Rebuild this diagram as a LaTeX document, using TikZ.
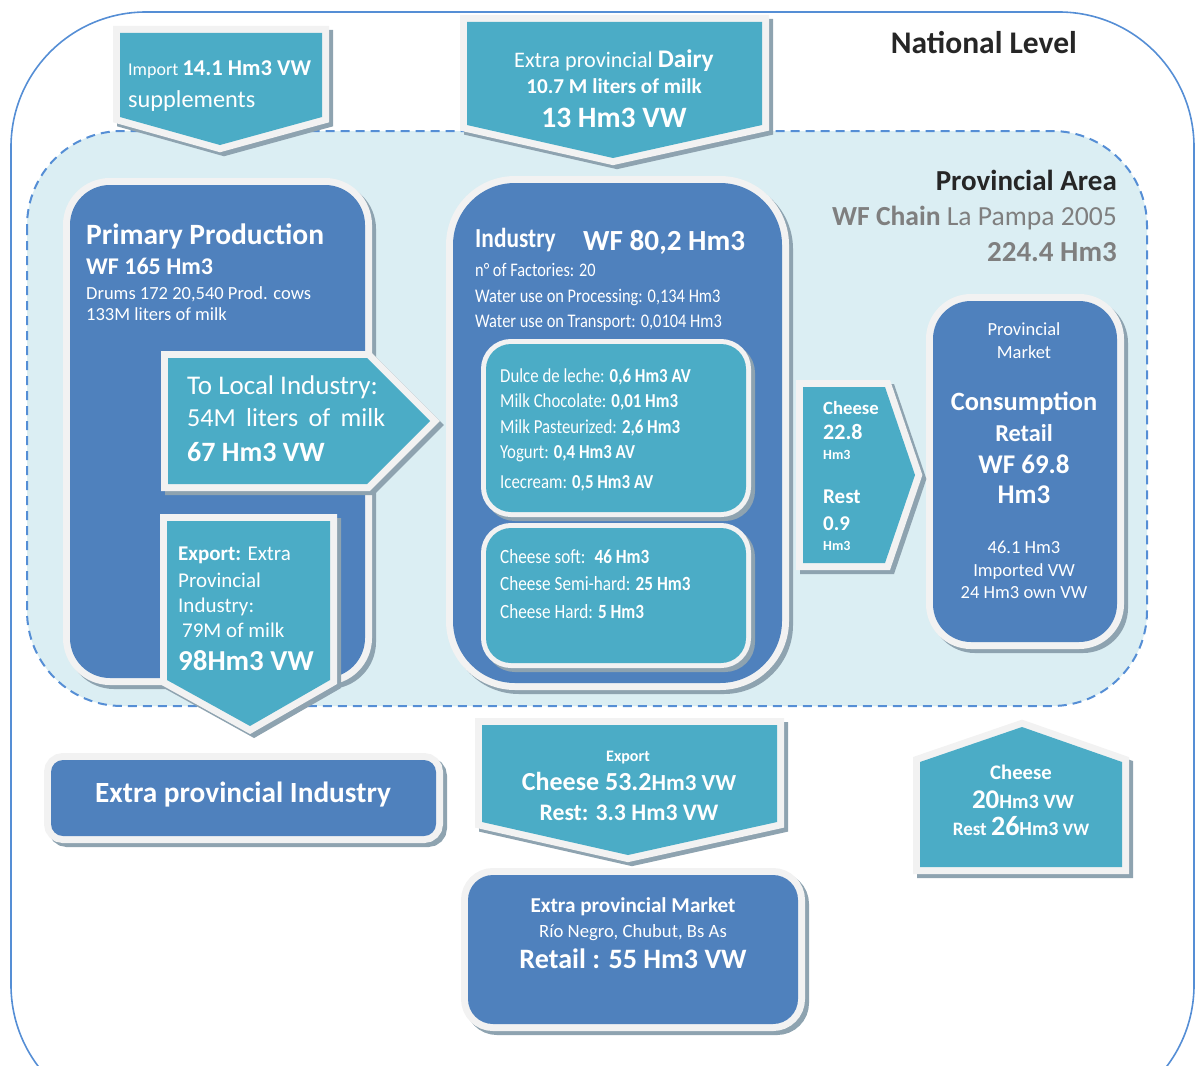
\documentclass[tikz,border=0pt]{standalone}
\usepackage{fontspec}
\setmainfont{Carlito}
\newfontfamily\condfont{Carlito}[FakeStretch=0.85]

\definecolor{boxblue}{HTML}{4F81BD}
\definecolor{arrowteal}{HTML}{4BACC6}
\definecolor{rimgray}{HTML}{F2F2F2}
\definecolor{shadowgray}{HTML}{8EA3B0}
\definecolor{areablue}{HTML}{DBEEF3}
\definecolor{lineblue}{HTML}{558ED5}
\definecolor{labelgray}{HTML}{7F7F7F}
\definecolor{labeldark}{HTML}{262626}

\newcommand\fsz[1]{\fontsize{#1}{#1}\selectfont}

% block with light rim and drop shadow
\newcommand\block[3][14pt]{%
  \draw[shadowgray, line width=#1, shift={(4,4)}] #3;
  \draw[rimgray, line width=#1] #3;
  \fill[#2] #3;}

\begin{document}
\begin{tikzpicture}[x=1pt,y=-1pt,
    whitetxt/.style={text=white, inner sep=0pt},
    lefttxt/.style={whitetxt, anchor=base west},
    midtxt/.style={whitetxt, anchor=base},
    titletxt/.style={inner sep=0pt, anchor=base east}]

\useasboundingbox (0,0) rectangle (1196,1065);

% national level
\begin{scope}
\clip (0,0) rectangle (1196,1065);
\draw[lineblue, line width=1.6pt, rounded corners=135] (11,12) rectangle (1194,1120);
\end{scope}

% provincial area
\draw[lineblue, fill=areablue, line width=2pt, dash pattern=on 9pt off 6pt,
  rounded corners=95] (27,131) rectangle (1147,706);

% boxes
\block{boxblue}{[rounded corners=40] (70,185) rectangle (365,678)}
\block{boxblue}{[rounded corners=62] (453,183) rectangle (782,683)}
\block[10pt]{arrowteal}{[rounded corners=25] (486,344) rectangle (746,512)}
\block[10pt]{arrowteal}{[rounded corners=25] (486,528) rectangle (746,663)}
\block{boxblue}{[rounded corners=38] (933,301) rectangle (1117,642)}
\block{boxblue}{[rounded corners=12] (51,760) rectangle (436,836)}
\block{boxblue}{[rounded corners=25] (468,875) rectangle (798,1024)}

% arrows
\block{arrowteal}{(120,33) -- (322,33) -- (322,117) -- (220,145) -- (120,117) -- cycle}
\block{arrowteal}{(467,22) -- (762,22) -- (762,125) -- (613,158) -- (467,125) -- cycle}
\block{arrowteal}{(168,358) -- (367,358) -- (430,421) -- (367,484) -- (168,484) -- cycle}
\block{arrowteal}{(167,521) -- (330,521) -- (330,680) -- (250,726) -- (167,680) -- cycle}
\block{arrowteal}{(803,387) -- (885,387) -- (915,475) -- (885,563) -- (803,563) -- cycle}
\block{arrowteal}{(482,725) -- (777,725) -- (777,822) -- (628,855) -- (482,822) -- cycle}
\block{arrowteal}{(920,762) -- (1022,727) -- (1122,762) -- (1122,867) -- (920,867) -- cycle}

% headings
\node[titletxt, text=labeldark, font=\fsz{31.5}\bfseries] (national) at (1077,53) {National Level};
\node[titletxt, text=labeldark, font=\fsz{29}\bfseries] (provincial) at (1117,190) {Provincial Area};
\node[titletxt, text=labelgray, font=\fsz{27.6}] (wfchain) at (1117,225) {\textbf{WF Chain} La Pampa 2005};
\node[titletxt, text=labelgray, font=\fsz{29}\bfseries] (wftotal) at (1117,261) {224.4 Hm3};

% import
\node[lefttxt, font=\fsz{18}] (imp-1) at (128,75) {Import \fsz{22.6}\textbf{14.1 Hm3 VW}};
\node[lefttxt, font=\fsz{24.3}] (imp-2) at (128,107) {supplements};

% dairy
\node[midtxt, font=\fsz{22.2}] (dairy-1) at (614,67) {Extra provincial \fsz{25.4}\textbf{Dairy}};
\node[midtxt, font=\fsz{21.2}\bfseries] (dairy-2) at (614,93) {10.7 M liters of milk};
\node[midtxt, font=\fsz{29.6}\bfseries] (dairy-3) at (614,127) {13 Hm3 VW};

% primary production
\node[lefttxt, font=\fsz{29.5}\bfseries] (pp-title) at (86,244) {Primary Production};
\node[lefttxt, font=\fsz{24}\bfseries] (pp-wf) at (86,274) {WF 165 Hm3};
\node[lefttxt, font=\fsz{18.5}] (pp-cows) at (86,299) {Drums 172 20,540 Prod. cows};
\node[lefttxt, font=\fsz{18.5}] (pp-milk) at (86,320) {133M liters of milk};

\node[lefttxt, font=\fsz{27}] (loc-1) at (187,394) {To Local Industry:};
\node[lefttxt, font=\fsz{26}] (loc-2) at (187,426) {\makebox[198pt][s]{54M liters of milk}};
\node[lefttxt, font=\fsz{28}\bfseries] (loc-3) at (187,461) {67 Hm3 VW};

\node[lefttxt, font=\fsz{21}] (exp-1) at (178,560) {\textbf{Export:} Extra};
\node[lefttxt, font=\fsz{21}] (exp-2) at (178,587) {Provincial};
\node[lefttxt, font=\fsz{21}] (exp-3) at (178,612) {Industry:};
\node[lefttxt, font=\fsz{21}] (exp-4) at (182,637) {79M of milk};
\node[lefttxt, font=\fsz{28.9}\bfseries] (exp-5) at (178,670) {98Hm3 VW};

% industry
\node[lefttxt, font=\condfont\bfseries\fsz{27.5}] (ind-title) at (475,247) {Industry};
\node[lefttxt, font=\fsz{29.2}\bfseries] (ind-wf) at (583,250) {WF 80,2 Hm3};
\node[lefttxt, font=\condfont\fsz{19.2}] (ind-fact) at (475,276) {n° of Factories: 20};
\node[lefttxt, font=\condfont\fsz{19.3}] (ind-proc) at (475,302) {Water use on Processing: 0,134 Hm3};
\node[lefttxt, font=\condfont\fsz{19.3}] (ind-trans) at (475,327) {Water use on Transport: 0,0104 Hm3};

\node[lefttxt, font=\condfont\fsz{19.8}] (prod-1) at (500,382) {Dulce de leche: \textbf{0,6 Hm3 AV}};
\node[lefttxt, font=\condfont\fsz{19.8}] (prod-2) at (500,407) {Milk Chocolate: \textbf{0,01 Hm3}};
\node[lefttxt, font=\condfont\fsz{19.8}] (prod-3) at (500,433) {Milk Pasteurized: \textbf{2,6 Hm3}};
\node[lefttxt, font=\condfont\fsz{19.8}] (prod-4) at (500,458) {Yogurt: \textbf{0,4 Hm3 AV}};
\node[lefttxt, font=\condfont\fsz{19.8}] (prod-5) at (500,488) {Icecream: \textbf{0,5 Hm3 AV}};

\node[lefttxt, font=\condfont\fsz{20.2}] (chz-1) at (500,563) {Cheese soft: \ \textbf{46 Hm3}};
\node[lefttxt, font=\condfont\fsz{20.2}] (chz-2) at (500,590) {Cheese Semi-hard: \textbf{25 Hm3}};
\node[lefttxt, font=\condfont\fsz{20.2}] (chz-3) at (500,618) {Cheese Hard: \textbf{5 Hm3}};

% flow to provincial market
\node[lefttxt, font=\fsz{18.7}\bfseries] (flow-chz) at (823,414) {Cheese};
\node[lefttxt, font=\fsz{22}\bfseries] (flow-chzv) at (823,439) {22.8};
\node[lefttxt, font=\fsz{14}\bfseries] (flow-chzu) at (823,459) {Hm3};
\node[lefttxt, font=\fsz{21}\bfseries] (flow-rest) at (823,503) {Rest};
\node[lefttxt, font=\fsz{21}\bfseries] (flow-restv) at (823,530) {0.9};
\node[lefttxt, font=\fsz{14}\bfseries] (flow-restu) at (823,550) {Hm3};

% provincial market
\node[midtxt, font=\fsz{18.5}] (mkt-1) at (1024,335) {Provincial};
\node[midtxt, font=\fsz{18.5}] (mkt-2) at (1024,358) {Market};
\node[midtxt, font=\fsz{26.4}\bfseries] (mkt-3) at (1024,410) {Consumption};
\node[midtxt, font=\fsz{24.3}\bfseries] (mkt-4) at (1024,441) {Retail};
\node[midtxt, font=\fsz{27}\bfseries] (mkt-5) at (1024,473) {WF 69.8};
\node[midtxt, font=\fsz{27}\bfseries] (mkt-6) at (1024,503) {Hm3};
\node[midtxt, font=\fsz{18.5}] (mkt-7) at (1024,553) {46.1 Hm3};
\node[midtxt, font=\fsz{18.5}] (mkt-8) at (1024,576) {Imported VW};
\node[midtxt, font=\fsz{18.5}] (mkt-9) at (1024,598) {24 Hm3 own VW};

% outside the province
\node[midtxt, font=\fsz{29.3}\bfseries] (epi) at (243,802) {Extra provincial Industry};

\node[midtxt, font=\fsz{16}\bfseries] (xp-1) at (628,761) {Export};
\node[midtxt, font=\fsz{26}\bfseries] (xp-2) at (629,790) {Cheese 53.2{\fsz{23}Hm3 VW}};
\node[midtxt, font=\fsz{23.7}\bfseries] (xp-3) at (629,820) {Rest: 3.3 Hm3 VW};

\node[midtxt, font=\fsz{21.2}\bfseries] (epm-1) at (633,912) {Extra provincial Market};
\node[midtxt, font=\fsz{18.7}] (epm-2) at (633,937) {Río Negro, Chubut, Bs As};
\node[midtxt, font=\fsz{28.1}\bfseries] (epm-3) at (633,968) {Retail : 55 Hm3 VW};

\node[midtxt, font=\fsz{20.7}\bfseries] (ximp-1) at (1021,779) {Cheese};
\node[midtxt, font=\bfseries] (ximp-2) at (1023,808) {\fsz{27}20\fsz{20.3}Hm3 VW};
\node[midtxt, font=\bfseries] (ximp-3) at (1021,835) {\fsz{19}Rest \fsz{28}26\fsz{20}Hm3 \fsz{17.5}VW};

\end{tikzpicture}
\end{document}
